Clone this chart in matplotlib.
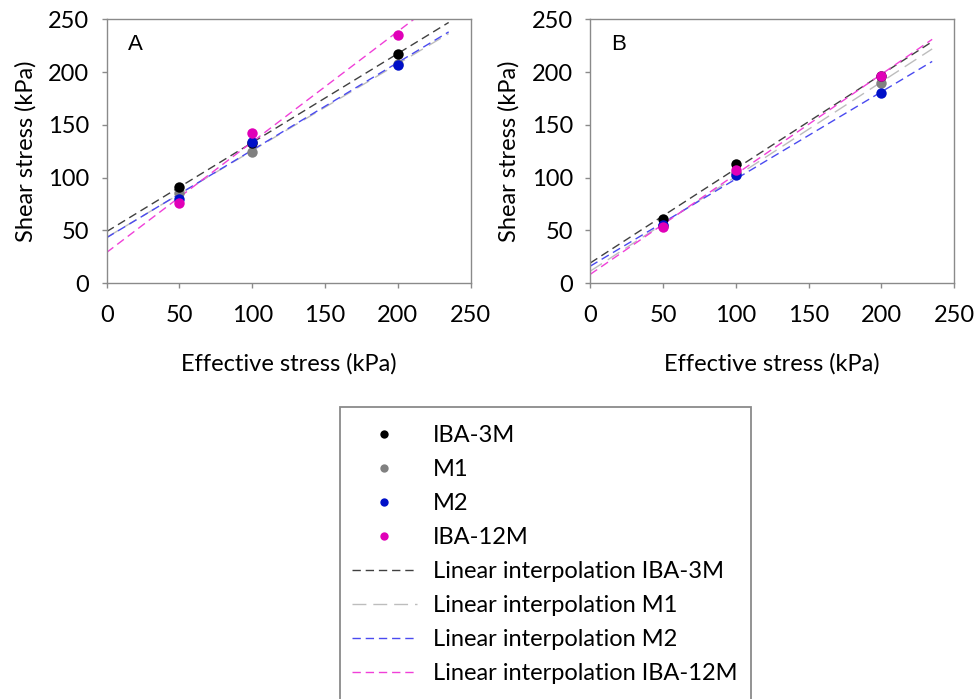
import numpy as np
import matplotlib
matplotlib.use("Agg")
import matplotlib.pyplot as plt
from matplotlib.lines import Line2D
from matplotlib.patches import Rectangle

plt.rcParams['font.family'] = ['Lato', 'DejaVu Sans']

stress = [50, 100, 200]
series = ["IBA-3M", "M1", "M2", "IBA-12M"]
panel_a = {
    "IBA-3M": [91, 133, 217.5],
    "M1": [85, 124.5, 208],
    "M2": [79.5, 133.5, 206.5],
    "IBA-12M": [75.5, 142.5, 235.5],
}
panel_b = {
    "IBA-3M": [60.5, 113, 196],
    "M1": [54, 104, 189.5],
    "M2": [55, 102, 180],
    "IBA-12M": [53, 107, 196.5],
}
fit_range = [0, 235]
ticks = [0, 50, 100, 150, 200, 250]

marker_colors = {"IBA-3M": "#000000", "M1": "#808080", "M2": "#0010c8", "IBA-12M": "#e000b8"}
line_colors = {"IBA-3M": "#404040", "M1": "#bdbdbd", "M2": "#4a4af0", "IBA-12M": "#f040d8"}
line_dashes = {"IBA-3M": (6, 3.5), "M1": (10, 5), "M2": (6, 3.5), "IBA-12M": (6, 3.5)}
draw_order = ["M1", "IBA-3M", "M2", "IBA-12M"]

fig = plt.figure(figsize=(9.74, 6.99), dpi=100)
W, H = 974, 699

def make_ax(x0, x1, y0, y1):
    return fig.add_axes([x0 / W, 1 - y0 / H, (x1 - x0) / W, (y0 - y1) / H])

axA = make_ax(106.7, 470.5, 283, 19.3)
axB = make_ax(590.3, 954, 283, 19.3)

FS = 17
for ax, data, lab in [(axA, panel_a, "A"), (axB, panel_b, "B")]:
    xs = np.array(fit_range, dtype=float)
    for s in draw_order:
        k, b = np.polyfit(stress, data[s], 1)
        ax.plot(xs, k * xs + b, color=line_colors[s], lw=1.0,
                dashes=line_dashes[s], zorder=2)
    for s in ["M1", "IBA-3M", "M2", "IBA-12M"]:
        ax.plot(stress, data[s], 'o', color=marker_colors[s], ms=7.5,
                mec='none', zorder=3)
    ax.set_xlim(0, 250)
    ax.set_ylim(0, 250)
    ax.set_xticks(ticks)
    ax.set_yticks(ticks)
    for sp in ax.spines.values():
        sp.set_color('#8a8a8a')
        sp.set_linewidth(1.0)
    ax.tick_params(direction='out', length=3.6, width=1, color='#8a8a8a',
                   labelsize=FS)
    ax.tick_params(axis='x', pad=12.5)
    ax.tick_params(axis='y', pad=9)
    ax.set_xlabel("Effective stress (kPa)", fontsize=FS, labelpad=19.5)
    ax.set_ylabel("Shear stress (kPa)", fontsize=FS, labelpad=8.3)
    ax.text(0.058, 0.943, lab, transform=ax.transAxes, fontsize=16,
            family='Liberation Sans', va='top', ha='left')

handles = []
labels = []
for s in series:
    handles.append(Line2D([], [], ls='none', marker='o', color=marker_colors[s],
                          ms=6, mec='none'))
    labels.append(s)
for s in series:
    handles.append(Line2D([], [], color=line_colors[s], lw=1.0, dashes=line_dashes[s]))
    labels.append("Linear interpolation " + s)

fig.patches.append(Rectangle((340 / W, -0.05), (751 - 340) / W, (1 - 406.7 / H) + 0.05,
                             transform=fig.transFigure, fill=False,
                             edgecolor='#8a8a8a', lw=1.3, figure=fig))
leg = fig.legend(handles, labels, loc='upper left',
                 bbox_to_anchor=(352 / W, 1 - 425 / H), frameon=False,
                 fontsize=FS, handlelength=2.75, handletextpad=0.68,
                 labelspacing=0.55, borderaxespad=0, borderpad=0)

fig.savefig("out.png", dpi=100)
